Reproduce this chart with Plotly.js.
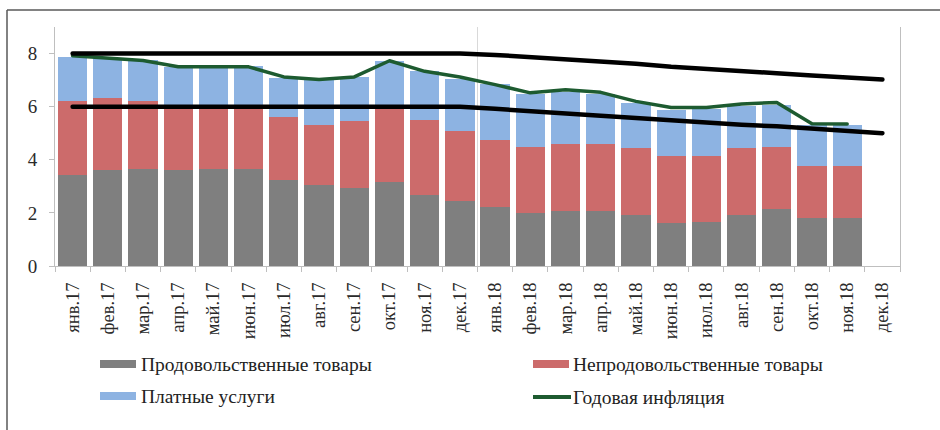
<!DOCTYPE html>
<html>
<head>
<meta charset="utf-8">
<script src="https://cdn.plot.ly/plotly-3.0.1.min.js"></script>
<style>
  html, body { margin: 0; padding: 0; background: #fff; }
  #chart { width: 940px; height: 430px; }
  .js-line { stroke-linecap: round; stroke-linejoin: round; }
</style>
</head>
<body>
<div id="chart"></div>
<script>
// ---- Data ----
const categories = ['янв.17','фев.17','мар.17','апр.17','май.17','июн.17','июл.17','авг.17','сен.17','окт.17','ноя.17','дек.17',
                    'янв.18','фев.18','мар.18','апр.18','май.18','июн.18','июл.18','авг.18','сен.18','окт.18','ноя.18','дек.18'];

const foodGoods    = [3.43,3.60,3.66,3.60,3.66,3.66,3.25,3.06,2.95,3.18,2.68,2.45,2.21,2.01,2.08,2.08,1.92,1.61,1.65,1.92,2.14,1.80,1.80,null];
const nonFoodGoods = [2.77,2.71,2.54,2.40,2.34,2.34,2.35,2.26,2.50,2.77,2.80,2.64,2.54,2.49,2.52,2.52,2.52,2.52,2.50,2.52,2.34,1.95,1.95,null];
const paidServices = [1.67,1.52,1.55,1.50,1.50,1.52,1.48,1.70,1.67,1.76,1.85,1.96,2.10,1.99,1.95,1.88,1.70,1.76,1.75,1.60,1.58,1.55,1.56,null];
const annualInflation = [7.92,7.83,7.74,7.50,7.50,7.50,7.12,7.02,7.12,7.73,7.33,7.12,6.83,6.52,6.64,6.54,6.20,5.97,5.97,6.10,6.16,5.36,5.35,null];
const targetUpper = [8,8,8,8,8,8,8,8,8,8,8,8,7.95,7.87,7.80,7.74,7.62,7.50,7.43,7.33,7.26,7.17,7.09,7.02];
const targetLower = [6,6,6,6,6,6,6,6,6,6,6,6,5.92,5.82,5.74,5.66,5.57,5.48,5.41,5.32,5.26,5.18,5.10,5.00];

const seriesNames = ['Продовольственные товары','Непродовольственные товары','Платные услуги','Годовая инфляция'];
const yTicks = [0,2,4,6,8];

// ---- Styles ----
const colors = { food:'#7f7f7f', nonfood:'#cc6b6b', services:'#8db3e2', infl:'#1d5b30', band:'#000000' };
const FONT = 'Liberation Serif, Times New Roman, serif';

const W = 940, H = 430;
const M = { l:55, r:40, t:27, b:164 };
const PW = W - M.l - M.r, PH = H - M.t - M.b;
const px2x = p => (p - M.l) / PW;
const py2y = p => (H - M.b - p) / PH;

const traces = [
  { type:'bar', name:seriesNames[0], x:categories, y:foodGoods, marker:{color:colors.food}, showlegend:false },
  { type:'bar', name:seriesNames[1], x:categories, y:nonFoodGoods, marker:{color:colors.nonfood}, showlegend:false },
  { type:'bar', name:seriesNames[2], x:categories, y:paidServices, marker:{color:colors.services}, showlegend:false },
  { type:'scatter', mode:'lines', name:seriesNames[3], x:categories, y:annualInflation, line:{color:colors.infl, width:3.5}, showlegend:false },
  { type:'scatter', mode:'lines', name:'upper', x:categories, y:targetUpper, line:{color:colors.band, width:4.5}, showlegend:false },
  { type:'scatter', mode:'lines', name:'lower', x:categories, y:targetLower, line:{color:colors.band, width:4.5}, showlegend:false }
];

// custom legend (swatches + labels)
const legendItems = [
  { name:seriesNames[0], color:colors.food,     kind:'bar',  sx:100, tx:139, cy:364 },
  { name:seriesNames[1], color:colors.nonfood,  kind:'bar',  sx:533, tx:571, cy:364 },
  { name:seriesNames[2], color:colors.services, kind:'bar',  sx:100, tx:139, cy:396 },
  { name:seriesNames[3], color:colors.infl,     kind:'line', sx:533, tx:571, cy:397 }
];

const shapes = [
  { type:'line', xref:'x', yref:'paper', x0:11.5, x1:11.5, y0:0, y1:1, line:{color:'#d9d9d9', width:1}, layer:'below' },
  { type:'line', xref:'paper', yref:'paper', x0:px2x(7), x1:px2x(940), y0:py2y(10), y1:py2y(10), line:{color:'#595959', width:1.5} },
  { type:'line', xref:'paper', yref:'paper', x0:px2x(7), x1:px2x(7), y0:py2y(10), y1:py2y(432), line:{color:'#595959', width:1.5} }
];
const annotations = [];
legendItems.forEach(it => {
  if (it.kind === 'bar') {
    shapes.push({ type:'rect', xref:'paper', yref:'paper', x0:px2x(it.sx), x1:px2x(it.sx+36), y0:py2y(it.cy-4), y1:py2y(it.cy+4),
                  fillcolor:it.color, line:{width:0} });
  } else {
    shapes.push({ type:'line', xref:'paper', yref:'paper', x0:px2x(it.sx), x1:px2x(it.sx+38), y0:py2y(it.cy), y1:py2y(it.cy),
                  line:{color:it.color, width:4} });
  }
  annotations.push({ xref:'paper', yref:'paper', x:px2x(it.tx), y:py2y(it.cy), text:it.name, showarrow:false,
                     xanchor:'left', yanchor:'middle', font:{family:FONT, size:19.5, color:'#222222'} });
});

const layout = {
  width:W, height:H,
  margin:{ l:M.l, r:M.r, t:M.t, b:M.b, pad:0 },
  paper_bgcolor:'#ffffff', plot_bgcolor:'#ffffff',
  barmode:'stack', bargap:0.17,
  showlegend:false,
  font:{ family:FONT, size:17, color:'#333333' },
  xaxis:{
    type:'category', range:[-0.5, 23.5], tickangle:-90,
    tickson:'boundaries', ticks:'outside', ticklen:5, tickcolor:'#bfbfbf',
    showline:true, linecolor:'#bfbfbf', linewidth:1, showgrid:false, zeroline:false,
    tickfont:{ family:FONT, size:18.5, color:'#2a2a2a' }, ticklabelstandoff:8
  },
  yaxis:{
    range:[0,9], tickvals:yTicks, ticktext:yTicks.map(String),
    ticks:'outside', ticklen:5, tickcolor:'#bfbfbf',
    showline:true, mirror:true, linecolor:'#bfbfbf', linewidth:1, showgrid:false, zeroline:false,
    tickfont:{ family:FONT, size:19, color:'#2a2a2a' }, ticklabelstandoff:8
  },
  shapes:shapes,
  annotations:annotations
};

Plotly.newPlot('chart', traces, layout, { staticPlot:true, displayModeBar:false });
</script>
</body>
</html>
